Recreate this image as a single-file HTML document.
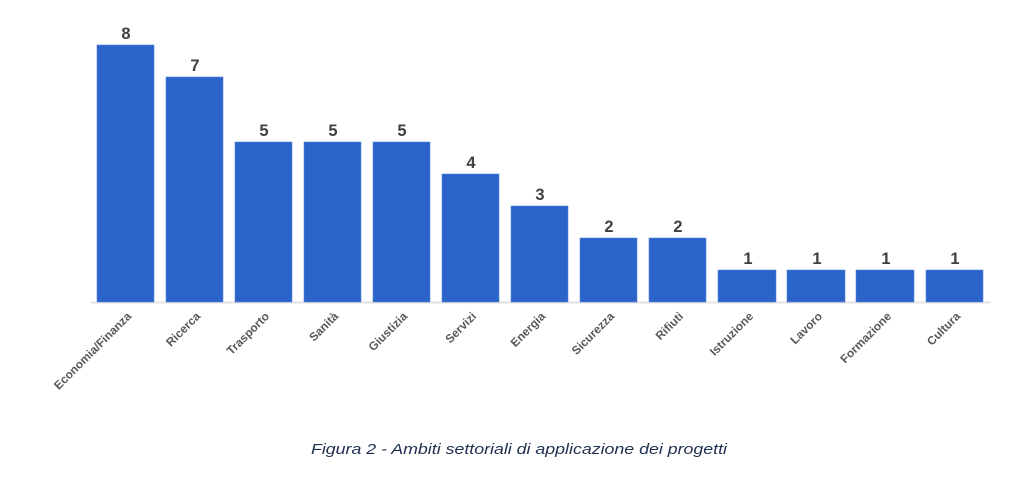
<!DOCTYPE html>
<html><head><meta charset="utf-8"><style>
html,body{margin:0;padding:0;background:#fff;}
svg{display:block;}
</style></head><body>
<svg width="1024" height="499" viewBox="0 0 1024 499" xmlns="http://www.w3.org/2000/svg" font-family="Liberation Sans, sans-serif">
<line x1="91" y1="302.5" x2="991" y2="302.5" stroke="#e2e2e2" stroke-width="2"/>
<g fill="#2a64c8" stroke="#5b86d6" stroke-width="0.6">
<rect x="97" y="45" width="57" height="257"/>
<rect x="166" y="77" width="57" height="225"/>
<rect x="235" y="142" width="57" height="160"/>
<rect x="304" y="142" width="57" height="160"/>
<rect x="373" y="142" width="57" height="160"/>
<rect x="442" y="174" width="57" height="128"/>
<rect x="511" y="206" width="57" height="96"/>
<rect x="580" y="238" width="57" height="64"/>
<rect x="649" y="238" width="57" height="64"/>
<rect x="718" y="270" width="58" height="32"/>
<rect x="787" y="270" width="58" height="32"/>
<rect x="856" y="270" width="58" height="32"/>
<rect x="926" y="270" width="57" height="32"/>
</g>
<g fill="#404040" font-size="16.5" font-weight="bold" text-anchor="middle">
<text x="126" y="39">8</text><text x="195" y="71">7</text><text x="264" y="136">5</text>
<text x="333" y="136">5</text><text x="402" y="136">5</text><text x="471" y="168">4</text>
<text x="540" y="200">3</text><text x="609" y="232">2</text><text x="678" y="232">2</text>
<text x="748" y="264">1</text><text x="817" y="264">1</text><text x="886" y="264">1</text><text x="955" y="264">1</text>
</g>
<g fill="#595959" font-size="11.8" font-weight="bold" text-anchor="end">
<text transform="translate(132,317) rotate(-45)">Economia/Finanza</text>
<text transform="translate(201,317) rotate(-45)">Ricerca</text>
<text transform="translate(270,317) rotate(-45)">Trasporto</text>
<text transform="translate(339,317) rotate(-45)">Sanità</text>
<text transform="translate(408,317) rotate(-45)">Giustizia</text>
<text transform="translate(477,317) rotate(-45)">Servizi</text>
<text transform="translate(546,317) rotate(-45)">Energia</text>
<text transform="translate(615,317) rotate(-45)">Sicurezza</text>
<text transform="translate(684,317) rotate(-45)">Rifiuti</text>
<text transform="translate(754,317) rotate(-45)">Istruzione</text>
<text transform="translate(823,317) rotate(-45)">Lavoro</text>
<text transform="translate(892,317) rotate(-45)">Formazione</text>
<text transform="translate(961,317) rotate(-45)">Cultura</text>
</g>
<text x="519" y="454" text-anchor="middle" font-size="15" font-style="italic" fill="#1f3050" textLength="416" lengthAdjust="spacingAndGlyphs">Figura 2 - Ambiti settoriali di applicazione dei progetti</text>
</svg>
</body></html>
